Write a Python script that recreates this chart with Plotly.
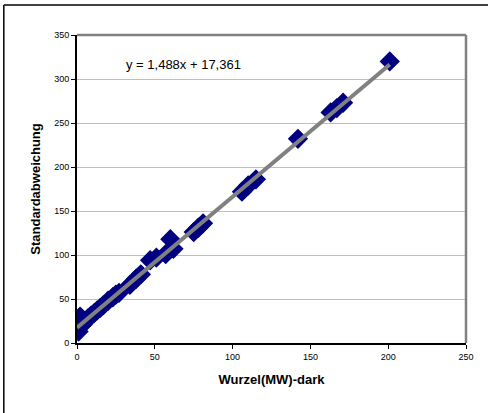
import plotly.graph_objects as go
import numpy as np

# data
x_vals = [0, 1, 1.5, 2, 3, 4, 5, 7, 9, 11, 13, 15, 17, 20, 23, 25, 27,
          34, 38, 41, 47, 51, 57, 60, 62, 75, 78, 81,
          106, 110, 115, 142, 163, 167, 171, 201]
y_vals = [17, 13, 24, 30, 20, 22, 25, 28, 31, 34, 37, 40, 43, 48, 52, 55, 57,
          66, 73, 78, 94, 97, 101, 118, 107, 126, 131, 136,
          172, 179, 186, 232, 262, 267, 273, 320]
slope = 1.488
intercept = 17.361
eq_label = "y = 1,488x + 17,361"
x_ticks = [0, 50, 100, 150, 200, 250]
y_ticks = [0, 50, 100, 150, 200, 250, 300, 350]

fit_x = np.array([min(x_vals), max(x_vals)])
fit_y = slope * fit_x + intercept

fig = go.Figure()
fig.add_trace(go.Scatter(
    x=x_vals, y=y_vals, mode="markers",
    marker=dict(symbol="diamond", size=14, color="#000080",
                line=dict(color="#000080", width=1.5)),
    showlegend=False, hoverinfo="skip"))
fig.add_trace(go.Scatter(
    x=fit_x, y=fit_y, mode="lines",
    line=dict(color="#808080", width=4),
    showlegend=False, hoverinfo="skip"))

font_family = "Liberation Sans, Arial, sans-serif"

fig.update_layout(
    width=488, height=413,
    margin=dict(l=77, r=22, t=35, b=70, pad=0),
    paper_bgcolor="white", plot_bgcolor="white",
    font=dict(family=font_family, color="black"),
    xaxis=dict(range=[0, 250], tickvals=x_ticks, ticktext=[str(v) for v in x_ticks],
               showgrid=False, zeroline=False, showline=True, linecolor="black",
               linewidth=2, ticks="outside", ticklen=4, tickcolor="black",
               tickfont=dict(size=9, family=font_family),
               title=dict(text="<b>Wurzel(MW)-dark</b>",
                          font=dict(size=13, family=font_family), standoff=14)),
    yaxis=dict(range=[0, 350], tickvals=y_ticks, ticktext=[str(v) for v in y_ticks],
               showgrid=True, gridcolor="#c0c0c0", gridwidth=1, zeroline=False,
               showline=True, linecolor="black", linewidth=2, ticks="outside",
               ticklen=4, tickcolor="black",
               tickfont=dict(size=9, family=font_family),
               title=dict(text="<b>Standardabweichung</b>",
                          font=dict(size=13, family=font_family), standoff=11)),
    annotations=[dict(x=30, y=316, xref="x", yref="y", text=eq_label,
                      showarrow=False, xanchor="left", yanchor="middle",
                      font=dict(size=13, family=font_family, color="black"))],
    shapes=[
        # top and right border of plot area (gray)
        dict(type="line", xref="paper", yref="paper", x0=0, x1=1, y0=1, y1=1,
             line=dict(color="#808080", width=2.5)),
        dict(type="line", xref="paper", yref="paper", x0=1, x1=1, y0=0, y1=1,
             line=dict(color="#808080", width=2.5)),
        # outer chart border (top and left edges visible)
        dict(type="line", xref="paper", yref="paper",
             x0=(4 - 77) / 388, x1=(495 - 77) / 388,
             y0=(343 - 5) / 308, y1=(343 - 5) / 308,
             line=dict(color="black", width=1.5), layer="above"),
        dict(type="line", xref="paper", yref="paper",
             x0=(4 - 77) / 388, x1=(4 - 77) / 388,
             y0=(343 - 420) / 308, y1=(343 - 5) / 308,
             line=dict(color="black", width=1.5), layer="above"),
    ],
)

fig.write_html("out.html", config={"displayModeBar": False},
               post_script="document.body.style.margin='0';document.body.style.overflow='hidden';")
